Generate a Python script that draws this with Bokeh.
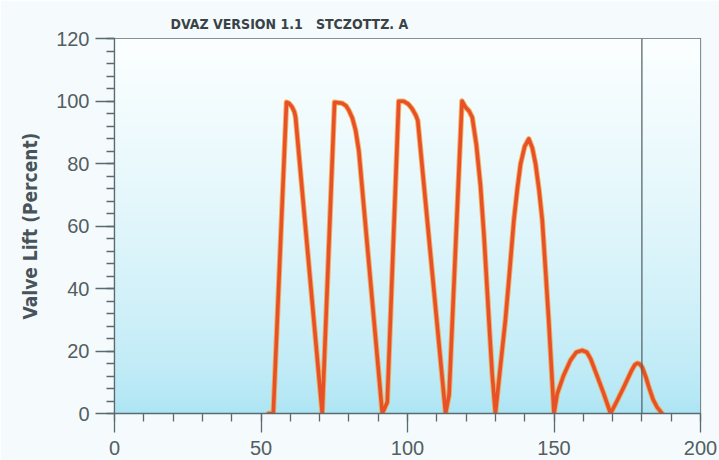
from bokeh.plotting import figure
from bokeh.models import Range1d, FixedTicker, Span
from bokeh.embed import file_html
from bokeh.resources import INLINE
import numpy as np

# Crank angle (deg) and valve lift (percent of full lift)
crank_angle = [52.6, 54.2, 58.7, 59.6, 60.6, 61.4, 61.8, 70.9,
               75.1, 77.7, 79.0, 80.0, 81.2, 82.3, 83.4, 91.4, 93.1,
               97.0, 98.7, 100.3, 101.6, 102.8, 103.5, 103.9, 113.0, 114.2,
               118.6, 119.8, 121.0, 122.1, 123.5, 124.9, 126.1, 127.2, 128.1, 128.9, 130.0,
               131.7, 133.4, 134.9, 136.3, 137.5, 138.6, 140.0, 141.4, 142.6, 143.7,
               144.9, 146.0, 147.1, 148.2, 149.1, 150.0,
               151.1, 153.2, 155.6, 157.6, 159.6, 161.2, 162.5, 164.8, 167.0, 169.3,
               171.5, 173.8, 176.5, 177.6, 178.4, 179.3, 180.1, 181.3, 182.4, 183.8,
               185.2, 186.9]
valve_lift = [0, 0, 99.6, 99.2, 98.1, 96.5, 94.8, 0,
              99.6, 99.3, 98.5, 97.0, 94.5, 90.6, 84.0, 0, 3.6,
              99.9, 99.9, 99.0, 97.5, 95.5, 93.8, 90.0, 0, 6.0,
              100.0, 98.0, 96.8, 94.8, 86.0, 73.0, 57.0, 39.4, 25.0, 12.7, 0,
              15.0, 29.8, 46.0, 61.8, 72.0, 79.9, 85.5, 87.9, 85.0, 79.9,
              71.5, 61.8, 46.0, 29.8, 15.0, 0,
              6.3, 12.0, 17.0, 19.6, 20.2, 19.6, 17.5, 11.8, 6.3, 0,
              4.0, 8.4, 13.8, 15.6, 16.1, 15.8, 14.8, 11.8, 8.4, 4.5,
              2.0, 0]

y_ticks = [0, 20, 40, 60, 80, 100, 120]
x_ticks = [0, 50, 100, 150, 200]
marker_angle = 180
title_text = "DVAZ VERSION 1.1\u00a0\u00a0\u00a0STCZOTTZ. A"
y_title = "Valve Lift (Percent)"

p = figure(width=719, height=460, output_backend="svg", toolbar_location=None,
           x_range=Range1d(0, 200), y_range=Range1d(0, 120),
           min_border_left=114, min_border_right=19,
           min_border_top=38, min_border_bottom=47)
p.background_fill_color = "#f5fbfc"
p.border_fill_color = "#f5fbfc"
p.outline_line_color = "#5b6a70"
p.outline_line_width = 1.2
p.grid.visible = False

p.title.text = title_text
p.title.align = "left"
p.title.offset = 56
p.title.standoff = 13
p.title.text_font = "DejaVu Sans Condensed"
p.title.text_font_style = "bold"
p.title.text_font_size = "14px"
p.title.text_color = "#394247"

# vertical white-to-cyan wash behind the curve
n = 200
t = np.linspace(0, 1, n)  # 0 bottom, 1 top
top = np.array([252, 255, 255])
bot = np.array([170, 228, 244])
w = t ** 0.6
cols = (bot[None, :] * (1 - w[:, None]) + top[None, :] * w[:, None]).astype(np.uint32)
img = np.empty((n, 1), dtype=np.uint32)
view = img.view(dtype=np.uint8).reshape((n, 1, 4))
view[:, 0, 0] = cols[:, 0]
view[:, 0, 1] = cols[:, 1]
view[:, 0, 2] = cols[:, 2]
view[:, 0, 3] = 255
p.image_rgba(image=[img], x=0, y=0, dw=200, dh=120)

# valve lift trace
p.line(crank_angle, valve_lift, line_color="#f2a23c", line_width=5.5,
       line_join="round", line_cap="round", alpha=0.8)
p.line(crank_angle, valve_lift, line_color="#e8502a", line_width=3.6,
       line_join="round", line_cap="round")

p.add_layout(Span(location=marker_angle, dimension="height",
                  line_color="#4e5d63", line_width=1.2))

axis_col = "#5b6a70"
label_col = "#535e62"
for ax in (p.xaxis[0], p.yaxis[0]):
    ax.axis_line_color = axis_col
    ax.axis_line_width = 1.3
    ax.major_tick_line_color = axis_col
    ax.minor_tick_line_color = axis_col
    ax.major_tick_line_width = 1.3
    ax.minor_tick_line_width = 1.3
    ax.major_tick_in = 0
    ax.major_tick_out = 19
    ax.minor_tick_in = 0
    ax.minor_tick_out = 8
    ax.major_label_text_font = "Liberation Sans"
    ax.major_label_text_font_size = "20px"
    ax.major_label_text_color = label_col

p.yaxis[0].ticker = FixedTicker(ticks=y_ticks,
                                minor_ticks=[v for v in range(0, 121, 4)])
p.xaxis[0].ticker = FixedTicker(ticks=x_ticks,
                                minor_ticks=[v for v in range(0, 201, 10)])
p.yaxis[0].major_label_standoff = 6
p.xaxis[0].major_label_standoff = 8

p.yaxis[0].axis_label = y_title
p.yaxis[0].axis_label_text_font = "DejaVu Sans Condensed"
p.yaxis[0].axis_label_text_font_style = "bold"
p.yaxis[0].axis_label_text_font_size = "19px"
p.yaxis[0].axis_label_text_color = "#48535a"
p.yaxis[0].axis_label_standoff = 12

open("out.html", "w").write(file_html(p, INLINE))
